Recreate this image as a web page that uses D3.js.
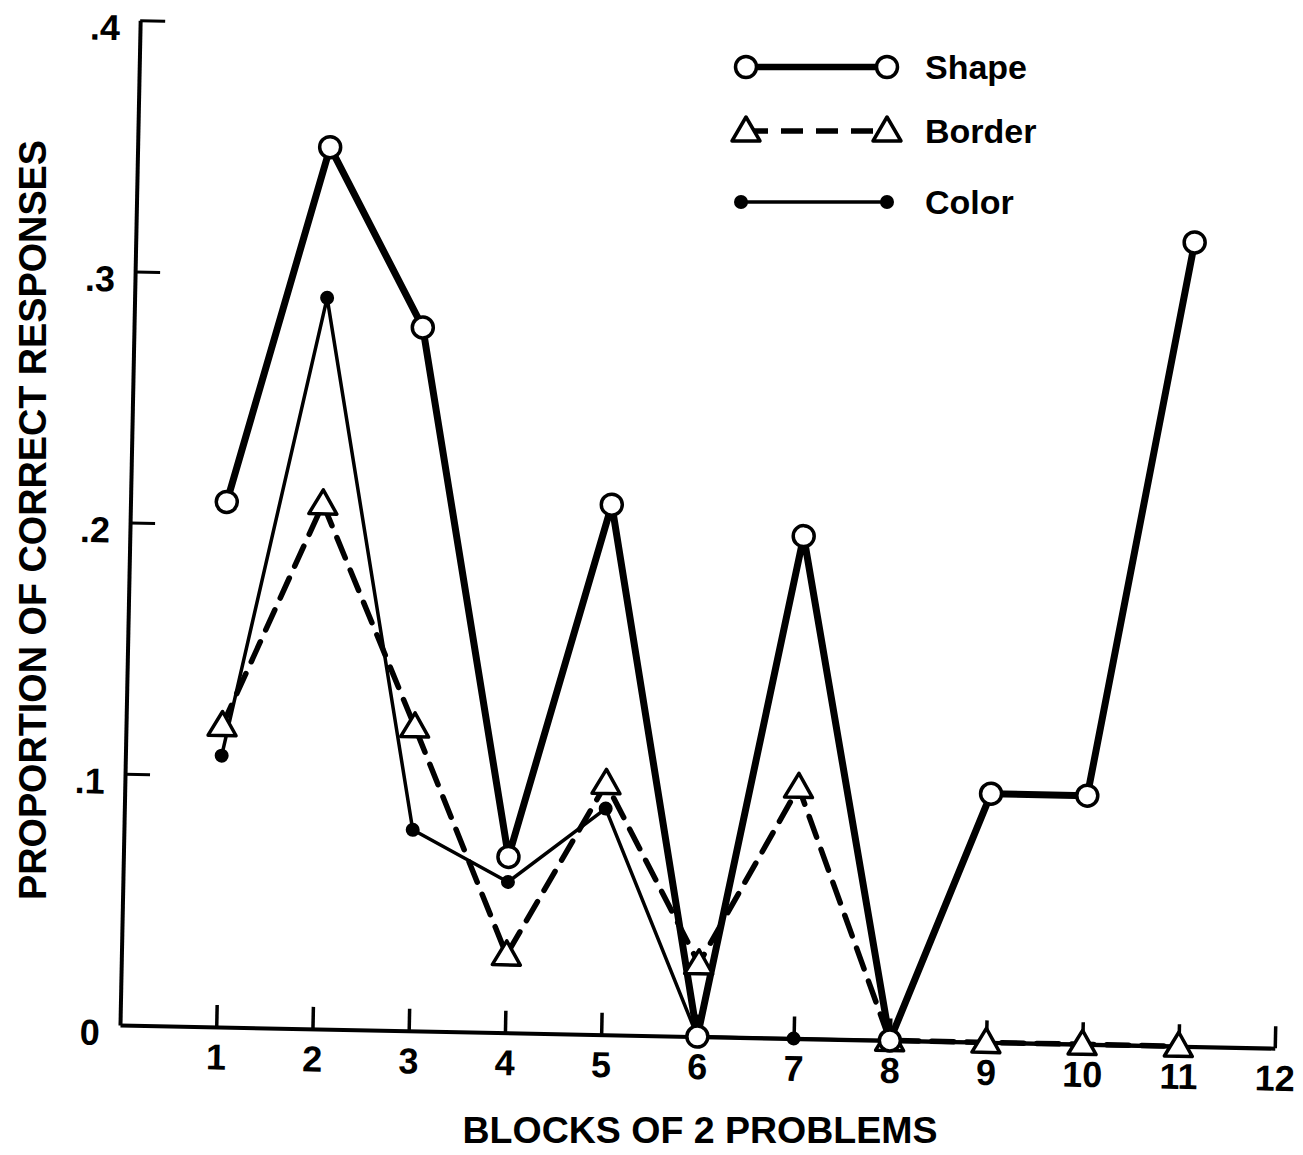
<!DOCTYPE html>
<html><head><meta charset="utf-8">
<script src="https://cdn.jsdelivr.net/npm/d3@7"></script>
<style>body{margin:0;background:#fff}</style>
</head><body>
<svg id="chart" width="1303" height="1155"></svg>
<script>
// ---- data ----
const blocks = [1, 2, 3, 4, 5, 6, 7, 8, 9, 10, 11];
const shapeValues  = [0.209, 0.351, 0.280, 0.070, 0.211, 0.000, 0.200, 0.000, 0.099, 0.099, 0.320];
const borderValues = [0.120, 0.209, 0.121, 0.031, 0.100, 0.029, 0.100, 0.000, 0.000, 0.000, 0.000];
const colorValues  = [0.108, 0.291, 0.080, 0.060, 0.090, 0.000, 0.000, 0.000, 0.000, 0.000, 0.000];
const xTickValues = [1, 2, 3, 4, 5, 6, 7, 8, 9, 10, 11, 12];
const yTickValues = [0, 0.1, 0.2, 0.3, 0.4];
const yTickLabels = ["0", ".1", ".2", ".3", ".4"];
const seriesNames = ["Shape", "Border", "Color"];
const xTitle = "BLOCKS OF 2 PROBLEMS";
const yTitle = "PROPORTION OF CORRECT RESPONSES";

// ---- layout ----
const svg = d3.select("#chart");
const FONT = "'Liberation Sans', Arial, sans-serif";
const origin = [120, 1025];
const tilt = 1.15;
const x = d3.scaleLinear().domain([0, 12]).range([0, 1155]);
const y = d3.scaleLinear().domain([0, 0.4]).range([0, -1005]);

const g = svg.append("g")
  .attr("transform", `translate(${origin[0]},${origin[1]}) rotate(${tilt})`);

// axes
const xAxis = d3.axisBottom(x).tickValues(xTickValues).tickSize(-22).tickSizeOuter(0).tickPadding(17);
const gx = g.append("g").call(xAxis);
gx.select(".domain").attr("stroke-width", 4);
gx.selectAll(".tick line").attr("stroke-width", 3.5);
gx.selectAll(".tick text").attr("font-family", FONT).attr("font-weight", "bold")
  .attr("font-size", 36).attr("fill", "#000");

const yAxis = d3.axisLeft(y).tickValues(yTickValues).tickSize(-25).tickSizeOuter(0).tickPadding(20)
  .tickFormat((d, i) => yTickLabels[i]);
const gy = g.append("g").call(yAxis);
gy.select(".domain").attr("stroke-width", 4);
gy.selectAll(".tick line").attr("stroke-width", 3);
gy.selectAll(".tick text").attr("font-family", FONT).attr("font-weight", "bold")
  .attr("font-size", 36).attr("fill", "#000").attr("dy", "0.55em");
gy.selectAll(".tick").filter(d => d === 0).select("line").remove();

// lines
const line = d3.line().x(d => x(d[0])).y(d => y(d[1]));
const zip = vals => blocks.map((b, i) => [b, vals[i]]);

g.append("path").datum(zip(colorValues)).attr("d", line)
  .attr("fill", "none").attr("stroke", "#000").attr("stroke-width", 3.5).attr("stroke-linejoin", "round");
g.append("path").datum(zip(borderValues)).attr("d", line)
  .attr("fill", "none").attr("stroke", "#000").attr("stroke-width", 5.5)
  .attr("stroke-dasharray", "22,13").attr("stroke-linecap", "round");
g.append("path").datum(zip(shapeValues)).attr("d", line)
  .attr("fill", "none").attr("stroke", "#000").attr("stroke-width", 7).attr("stroke-linejoin", "round");

// markers
const triPath = "M0,-14 L14,10 L-14,10 Z";
g.selectAll(".cdot").data(zip(colorValues)).join("circle")
  .attr("cx", d => x(d[0])).attr("cy", d => y(d[1])).attr("r", 7).attr("fill", "#000");
g.selectAll(".tri").data(zip(borderValues)).join("path")
  .attr("d", triPath).attr("transform", d => `translate(${x(d[0])},${y(d[1])})`)
  .attr("fill", "#fff").attr("stroke", "#000").attr("stroke-width", 3.5).attr("stroke-linejoin", "round");
g.selectAll(".sc").data(zip(shapeValues)).join("circle")
  .attr("cx", d => x(d[0])).attr("cy", d => y(d[1])).attr("r", 10.5)
  .attr("fill", "#fff").attr("stroke", "#000").attr("stroke-width", 3.5);

// titles
svg.append("text").attr("x", 700).attr("y", 1143).attr("text-anchor", "middle")
  .attr("font-family", FONT).attr("font-weight", "bold").attr("font-size", 36)
  .attr("textLength", 475).attr("lengthAdjust", "spacingAndGlyphs").text(xTitle);
svg.append("text").attr("transform", "translate(46,520) rotate(-90)").attr("text-anchor", "middle")
  .attr("font-family", FONT).attr("font-weight", "bold").attr("font-size", 38)
  .attr("textLength", 760).attr("lengthAdjust", "spacingAndGlyphs").text(yTitle);

// legend
const lg = svg.append("g");
const rows = [67, 131, 202];
const lx0 = 746, lx1 = 887;
// Shape
lg.append("line").attr("x1", lx0).attr("x2", lx1).attr("y1", rows[0]).attr("y2", rows[0])
  .attr("stroke", "#000").attr("stroke-width", 6.5);
[lx0, lx1].forEach(cx => lg.append("circle").attr("cx", cx).attr("cy", rows[0]).attr("r", 10.5)
  .attr("fill", "#fff").attr("stroke", "#000").attr("stroke-width", 3.5));
// Border
lg.append("line").attr("x1", lx0).attr("x2", lx1).attr("y1", rows[1]).attr("y2", rows[1])
  .attr("stroke", "#000").attr("stroke-width", 5.5).attr("stroke-dasharray", "22,13");
[lx0, lx1].forEach(cx => lg.append("path").attr("d", triPath)
  .attr("transform", `translate(${cx},${rows[1]})`)
  .attr("fill", "#fff").attr("stroke", "#000").attr("stroke-width", 3.5).attr("stroke-linejoin", "round"));
// Color
lg.append("line").attr("x1", lx0 - 5).attr("x2", lx1).attr("y1", rows[2]).attr("y2", rows[2])
  .attr("stroke", "#000").attr("stroke-width", 3.5);
[lx0 - 5, lx1].forEach(cx => lg.append("circle").attr("cx", cx).attr("cy", rows[2]).attr("r", 7).attr("fill", "#000"));
// labels
seriesNames.forEach((n, i) => lg.append("text").attr("x", 925).attr("y", rows[i] + 12)
  .attr("font-family", FONT).attr("font-weight", "bold").attr("font-size", 34).text(n));
</script>
</body></html>
